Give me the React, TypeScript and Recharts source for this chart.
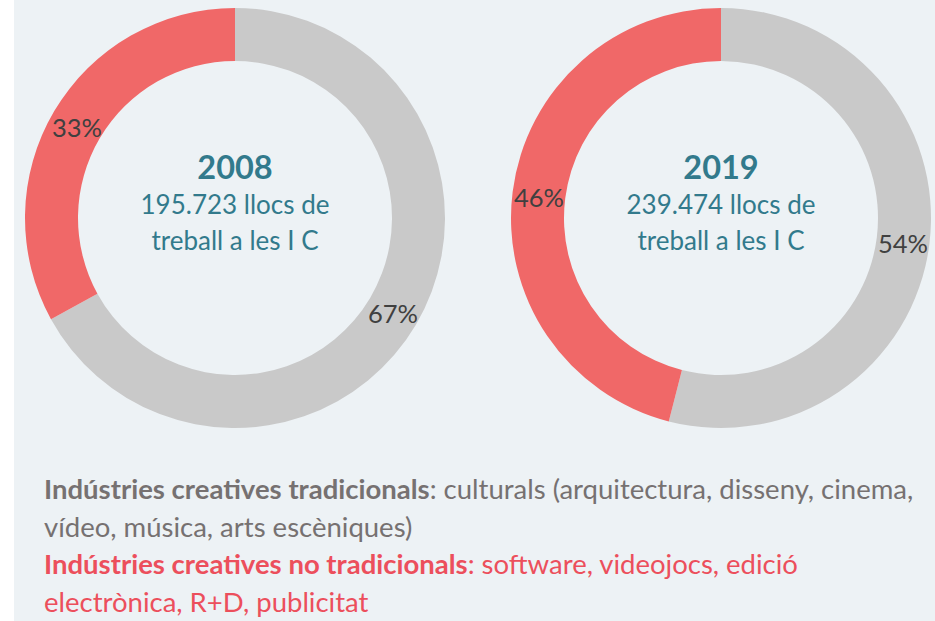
import React from 'react';
import { PieChart, Pie, Cell } from 'recharts';

const years = ['2008', '2019'];
const jobs = ['195.723', '239.474'];
const traditional = [67, 54];
const nonTraditional = [33, 46];
const centersX = [235, 721];

const GRAY = '#C9C9C9';
const RED = '#F06868';
const TEAL = '#327A8C';
const FONT = 'Lato, "Open Sans", sans-serif';
const RADIAN = Math.PI / 180;

const renderPercent = (props: any) => {
  const { cx, cy, midAngle, innerRadius, outerRadius, value } = props;
  const r = (innerRadius + outerRadius) / 2;
  const x = cx + r * Math.cos(-midAngle * RADIAN);
  const y = cy + r * Math.sin(-midAngle * RADIAN) + 2;
  return (
    <text
      x={x}
      y={y}
      fill="#404040"
      fontSize={25.5}
      fontFamily={FONT}
      textAnchor="middle"
      dominantBaseline="central"
    >
      {`${value}%`}
    </text>
  );
};

const App: React.FC = () => {
  return (
    <div style={{ position: 'absolute', left: 0, top: 0, width: 935, height: 621, background: '#fff', overflow: 'hidden' }}>
      <div style={{ position: 'absolute', left: 14, top: 0, width: 921, height: 621, background: '#EDF2F5' }} />
      <div style={{ position: 'absolute', left: 0, top: 0 }}>
        <PieChart width={935} height={440} margin={{ top: 0, right: 0, bottom: 0, left: 0 }}>
          {years.map((year, i) => (
            <Pie
              key={year}
              data={[
                { name: 'Indústries creatives tradicionals', value: traditional[i] },
                { name: 'Indústries creatives no tradicionals', value: nonTraditional[i] },
              ]}
              dataKey="value"
              cx={centersX[i]}
              cy={218}
              innerRadius={157}
              outerRadius={210}
              startAngle={90}
              endAngle={-270}
              stroke="none"
              label={renderPercent}
              labelLine={false}
              isAnimationActive={false}
            >
              <Cell fill={GRAY} />
              <Cell fill={RED} />
            </Pie>
          ))}
        </PieChart>
      </div>
      {years.map((year, i) => (
        <div
          key={year}
          style={{
            position: 'absolute',
            left: centersX[i] - 130,
            top: 148,
            width: 260,
            textAlign: 'center',
            color: TEAL,
            fontFamily: FONT,
          }}
        >
          <div style={{ fontSize: 32.5, fontWeight: 'bold', lineHeight: '38px' }}>{year}</div>
          <div style={{ fontSize: 26, lineHeight: '36px' }}>{jobs[i]} llocs de</div>
          <div style={{ fontSize: 26, lineHeight: '36px' }}>treball a les I C</div>
        </div>
      ))}
      <div
        style={{
          position: 'absolute',
          left: 44,
          top: 470,
          width: 891,
          fontFamily: FONT,
          fontSize: 27.5,
          lineHeight: '37.5px',
          whiteSpace: 'nowrap',
        }}
      >
        <div style={{ color: '#767171' }}>
          <b>Indústries creatives tradicionals</b>: culturals (arquitectura, disseny, cinema,
          <br />
          vídeo, música, arts escèniques)
        </div>
        <div style={{ color: '#EC4F5C' }}>
          <b>Indústries creatives no tradicionals</b>: software, videojocs, edició
          <br />
          electrònica, R+D, publicitat
        </div>
      </div>
    </div>
  );
};

export default App;
